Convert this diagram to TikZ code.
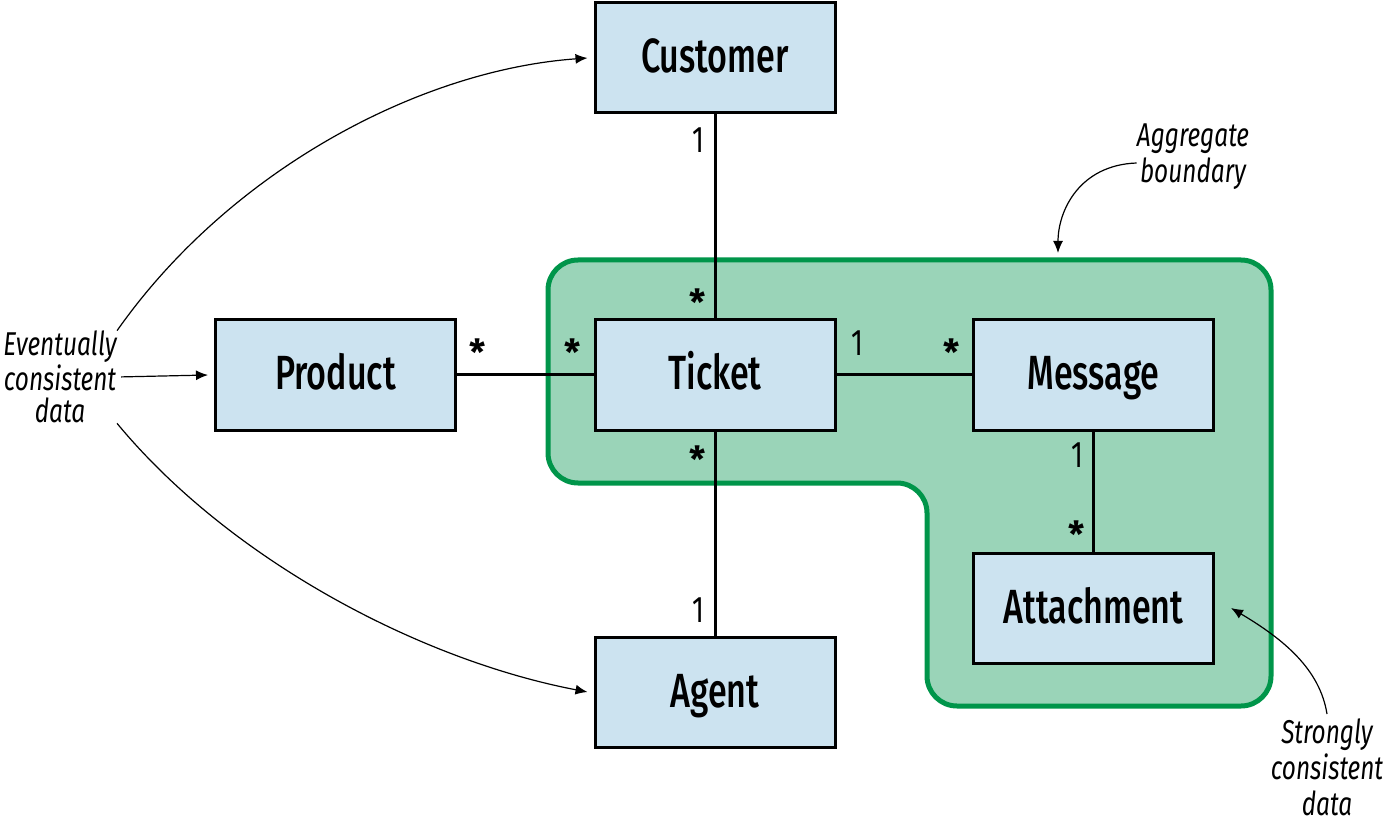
\documentclass[tikz,border=0pt]{standalone}
\usepackage{fontspec}
\setmainfont{Fira Sans}[FakeStretch=0.74]
\newfontfamily\boxfont{Fira Sans Medium}[FakeStretch=0.71]
\newfontfamily\starfont{Fira Sans Bold}
\usetikzlibrary{arrows.meta,positioning,calc}
\definecolor{entityblue}{HTML}{CCE3F0}
\definecolor{aggfill}{HTML}{9AD4B8}
\definecolor{aggline}{HTML}{00954A}
\tikzset{
  entity/.style={draw, line width=1.5pt, fill=entityblue, minimum width=120pt, minimum height=55pt, inner sep=0pt, text height=19pt, text depth=4pt, font=\boxfont\fontsize{24}{28}\selectfont},
  note/.style={align=center, inner sep=0pt, font=\itshape\fontsize{16.5}{18}\selectfont},
  mult/.style={inner sep=0pt, font=\fontsize{18.5}{20}\selectfont},
  star/.style={inner sep=0pt, font=\starfont\fontsize{18}{20}\selectfont},
  link/.style={line width=1.5pt},
  pointer/.style={line width=0.6pt, -{Latex[length=6pt,width=5pt]}}
}
\begin{document}
\begin{tikzpicture}[x=0.5pt, y=-0.5pt]
    \useasboundingbox (0,0) rectangle (1386,823);
    % aggregate boundary
    \draw[aggline, fill=aggfill, line width=2.5pt, rounded corners=15pt] (548,260) -- (1271,260) -- (1271,706) -- (927,706) -- (927,483) -- (548,483) -- cycle;
    % entities
    \node[entity] (customer) at (715,58) {Customer};
    \node[entity] (product) at (335.5,375) {Product};
    \node[entity] (ticket) at (715,375) {Ticket};
    \node[entity] (message) at (1093.5,375) {Message};
    \node[entity] (attachment) at (1093.5,608) {Attachment};
    \node[entity] (agent) at (715,692) {Agent};
    \draw[link] (customer) -- (ticket);
    \draw[link] (product) -- (ticket);
    \draw[link] (ticket) -- (message);
    \draw[link] (message) -- (attachment);
    \draw[link] (ticket) -- (agent);
    % multiplicities
    \node[mult] at (698,140) {1};
    \node[star] at (698,302) {*};
    \node[star] at (478,352) {*};
    \node[star] at (573,352) {*};
    \node[mult] at (857,343) {1};
    \node[star] at (952,352) {*};
    \node[star] at (698,459) {*};
    \node[mult] at (698,610) {1};
    \node[mult] at (1077,455) {1};
    \node[star] at (1077,534) {*};
    % notes
    \node[note, font=\itshape\fontsize{16.5}{16}\selectfont] (eventual) at (60,377) {Eventually\\consistent\\data};
    \node[note] (aggregate) at (1193,157) {Aggregate\\boundary};
    \node[note] (strong) at (1327,767) {Strongly\\consistent\\data};
    \draw[pointer] (eventual.north east) .. controls (230,170) and (420,70) .. ([xshift=-3pt]customer.west);
    \draw[pointer, shorten <=2pt] (eventual.east) -- ([xshift=-3pt]product.west);
    \draw[pointer] (eventual.south east) .. controls (230,560) and (420,660) .. ([xshift=-3pt]agent.west);
    \draw[pointer] ([yshift=-3pt]aggregate.west) .. controls (1080,165) and (1058,210) .. (1058,253);
    \draw[pointer] ([yshift=2pt]strong.north) .. controls (1320,670) and (1285,640) .. ([xshift=8pt]attachment.east);
\end{tikzpicture}
\end{document}
